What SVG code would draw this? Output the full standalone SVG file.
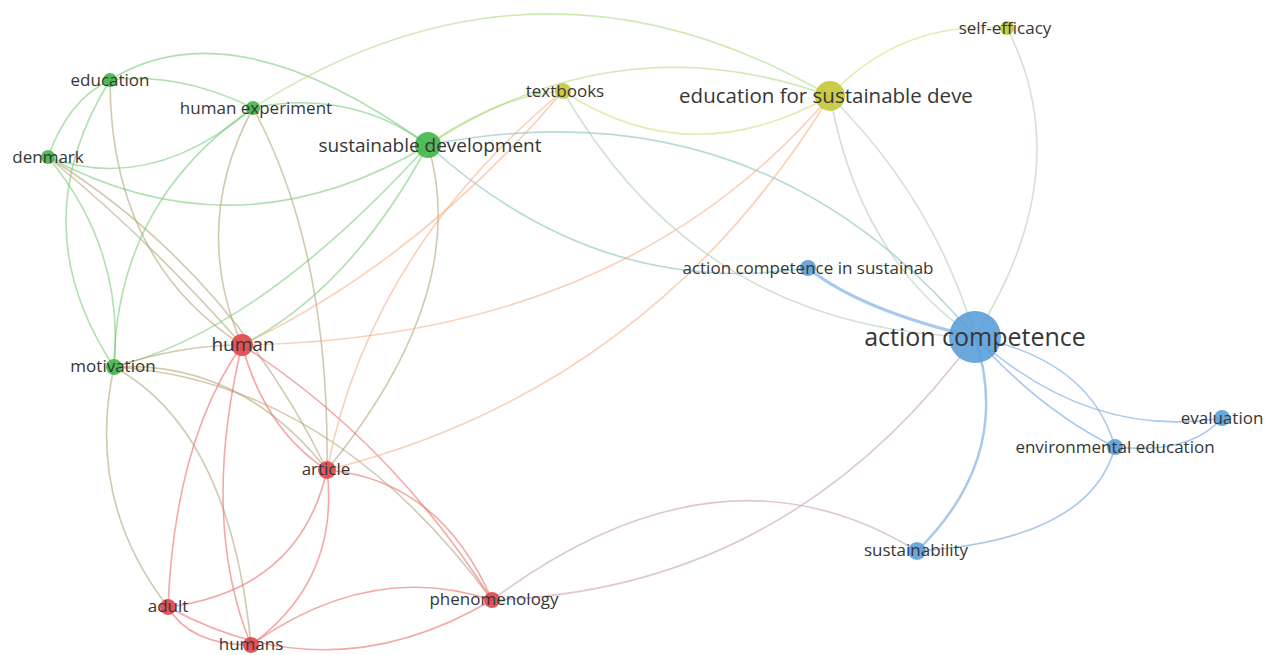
<svg xmlns="http://www.w3.org/2000/svg" width="1265" height="655" viewBox="0 0 1265 655">
<style>
.e{fill:none;stroke-width:1.6;stroke-linecap:round}
.g{stroke:rgba(110,200,110,0.55)}
.gr{stroke:rgba(180,165,120,0.6)}
.r{stroke:rgba(236,110,110,0.6)}
.ry{stroke:rgba(244,170,120,0.55)}
.gy{stroke:rgba(170,215,120,0.55)}
.y{stroke:rgba(215,215,110,0.55)}
.yb{stroke:rgba(180,205,185,0.6)}
.gb{stroke:rgba(120,190,185,0.55)}
.rb{stroke:rgba(200,160,190,0.6)}
.b{stroke:rgba(110,165,225,0.6)}
.ng{fill:#41b549;fill-opacity:0.9}
.nr{fill:#e0454a;fill-opacity:0.9}
.ny{fill:#c5c636;fill-opacity:0.9}
.nb{fill:#5a9fd9;fill-opacity:0.9}
text{font-family:"Open Sans","Noto Sans","Liberation Sans",sans-serif;fill:#363636;text-anchor:middle}
.s{font-size:17px}
</style>
<rect width="1265" height="655" fill="#fff"/>
<g id="connectors">
<path class="e g" d="M110 80 Q68 100 48 157"/>
<path class="e g" d="M110 80 Q20 225 114 367"/>
<path class="e g" d="M110 80 Q180 72 253 108"/>
<path class="e g" d="M110 80 Q231 4 428 145"/>
<path class="e gr" d="M110 80 Q110 260 242 345"/>
<path class="e g" d="M48 157 Q150 195 253 108"/>
<path class="e g" d="M48 157 Q238 259 428 145"/>
<path class="e g" d="M48 157 Q125 250 114 367"/>
<path class="e gr" d="M48 157 Q150 240 242 345"/>
<path class="e gr" d="M48 157 Q230 270 327 470"/>
<path class="e g" d="M253 108 Q350 88 428 145"/>
<path class="e g" d="M253 108 Q116 202 114 367"/>
<path class="e gr" d="M253 108 Q190 225 242 345"/>
<path class="e gr" d="M253 108 Q330 250 327 470"/>
<path class="e gy" d="M253 108 Q538 -74 830 96"/>
<path class="e g" d="M428 145 Q350 290 242 345"/>
<path class="e g" d="M428 145 Q260 330 114 367"/>
<path class="e gr" d="M428 145 Q472 292 327 470"/>
<path class="e gy" d="M428 145 Q500 95 563 91"/>
<path class="e gy" d="M428 145 Q620 20 830 96"/>
<path class="e gb" d="M428 145 Q760 80 975 337"/>
<path class="e gb" d="M428 145 Q600 300 808 268"/>
<path class="e gr" d="M114 367 Q180 345 242 345"/>
<path class="e gr" d="M114 367 Q240 360 327 470"/>
<path class="e gr" d="M114 367 Q330 380 492 600"/>
<path class="e gr" d="M114 367 Q85 500 168 607"/>
<path class="e gr" d="M114 367 Q230 430 251 645"/>
<path class="e r" d="M242 345 Q265 430 327 470"/>
<path class="e r" d="M242 345 Q175 440 168 607"/>
<path class="e r" d="M242 345 Q200 520 251 645"/>
<path class="e r" d="M242 345 Q390 440 492 600"/>
<path class="e ry" d="M242 345 Q420 260 563 91"/>
<path class="e ry" d="M242 345 Q624 339 830 96"/>
<path class="e r" d="M327 470 Q300 590 168 607"/>
<path class="e r" d="M327 470 Q340 580 251 645"/>
<path class="e r" d="M327 470 Q440 480 492 600"/>
<path class="e ry" d="M327 470 Q370 250 563 91"/>
<path class="e ry" d="M327 470 Q650 390 830 96"/>
<path class="e r" d="M168 607 Q190 645 251 645"/>
<path class="e r" d="M168 607 Q330 696 492 600"/>
<path class="e r" d="M251 645 Q370 560 492 600"/>
<path class="e rb" d="M492 600 Q790 590 975 337"/>
<path class="e rb" d="M492 600 Q720 430 917 551"/>
<path class="e y" d="M563 91 Q690 175 830 96"/>
<path class="e y" d="M830 96 Q900 20 1007 28"/>
<path class="e yb" d="M563 91 Q700 330 975 337"/>
<path class="e yb" d="M830 96 Q935 200 975 337"/>
<path class="e yb" d="M830 96 Q860 260 975 337"/>
<path class="e yb" d="M1007 28 Q1080 170 975 337"/>
<path class="e b" style="stroke-width:3" d="M808 268 Q860 310 975 337"/>
<path class="e b" style="stroke-width:2.5" d="M975 337 Q1014 456 917 551"/>
<path class="e b" d="M975 337 Q1040 410 1115 447"/>
<path class="e b" d="M975 337 Q1090 360 1115 447"/>
<path class="e b" d="M975 337 Q1090 440 1222 418"/>
<path class="e b" d="M1115 447 Q1190 455 1222 418"/>
<path class="e b" d="M1115 447 Q1090 540 917 551"/>
</g>
<g id="node-education"><circle class="ng" cx="110" cy="80" r="7"/><text class="s" x="110" y="86">education</text></g>
<g id="node-human-experiment"><circle class="ng" cx="253" cy="108" r="7"/><text class="s" x="256" y="114">human experiment</text></g>
<g id="node-denmark"><circle class="ng" cx="48" cy="157" r="7"/><text class="s" x="48" y="163">denmark</text></g>
<g id="node-sustainable-development"><circle class="ng" cx="428" cy="145" r="13"/><text x="430" y="152" font-size="19">sustainable development</text></g>
<g id="node-textbooks"><circle class="ny" cx="563" cy="91" r="8"/><text class="s" x="565" y="97">textbooks</text></g>
<g id="node-efsd"><circle class="ny" cx="830" cy="96" r="15"/><text x="826" y="103" font-size="20.5">education for sustainable deve</text></g>
<g id="node-self-efficacy"><circle class="ny" cx="1007" cy="28" r="7"/><text class="s" x="1005" y="34">self-efficacy</text></g>
<g id="node-acs"><circle class="nb" cx="808" cy="268" r="8"/><text class="s" x="808" y="274">action competence in sustainab</text></g>
<g id="node-action-competence"><circle class="nb" cx="975" cy="337" r="26"/><text x="975" y="346" font-size="25">action competence</text></g>
<g id="node-evaluation"><circle class="nb" cx="1222" cy="418" r="8"/><text class="s" x="1222" y="424">evaluation</text></g>
<g id="node-environmental-education"><circle class="nb" cx="1115" cy="447" r="8"/><text class="s" x="1115" y="453">environmental education</text></g>
<g id="node-sustainability"><circle class="nb" cx="917" cy="551" r="9"/><text class="s" x="916" y="556">sustainability</text></g>
<g id="node-human"><circle class="nr" cx="242" cy="345" r="11"/><text x="243" y="351" font-size="19">human</text></g>
<g id="node-motivation"><circle class="ng" cx="114" cy="367" r="8"/><text class="s" x="113" y="372">motivation</text></g>
<g id="node-article"><circle class="nr" cx="327" cy="470" r="9"/><text class="s" x="326" y="475">article</text></g>
<g id="node-adult"><circle class="nr" cx="168" cy="607" r="8"/><text class="s" x="168" y="612">adult</text></g>
<g id="node-humans"><circle class="nr" cx="251" cy="645" r="8"/><text class="s" x="251" y="650">humans</text></g>
<g id="node-phenomenology"><circle class="nr" cx="492" cy="600" r="8"/><text class="s" x="494" y="605">phenomenology</text></g>
</svg>
